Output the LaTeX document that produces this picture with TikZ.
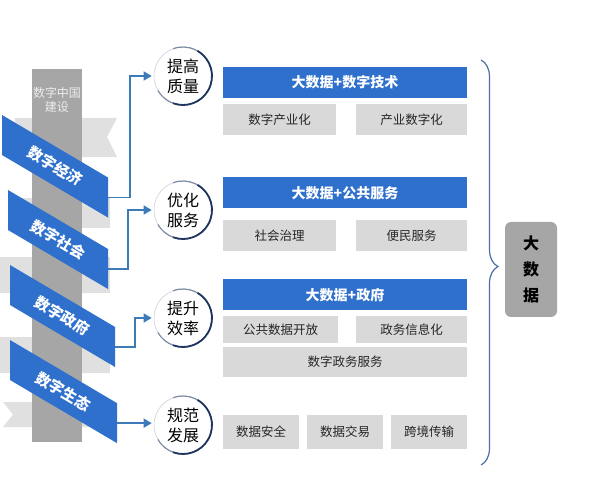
\documentclass[tikz,border=0pt]{standalone}
\usepackage{fontspec}
\setmainfont{Noto Sans CJK SC}
\usetikzlibrary{arrows.meta,decorations.pathreplacing}
\definecolor{ribbonblue}{RGB}{46,112,204}
\definecolor{linkblue}{RGB}{60,122,184}
\definecolor{colgray}{RGB}{166,166,166}
\definecolor{backgray}{RGB}{224,224,224}
\definecolor{boxgray}{RGB}{217,217,217}
\definecolor{ringdark}{RGB}{31,53,96}
\definecolor{ringmid}{RGB}{125,140,165}
\definecolor{bracecol}{RGB}{74,111,165}
\begin{document}
\begin{tikzpicture}[x=1pt,y=-1pt,
	conn/.style={draw=linkblue,line width=1.4pt,-{Triangle[length=8pt,width=9pt]},shorten >=2pt},
	ring/.style={circle,draw=ringmid!40,line width=0.6pt,fill=white,minimum size=58pt,inner sep=0pt,align=center,font=\fontsize{16}{20}\selectfont},
	head/.style={fill=ribbonblue,text=white,minimum height=31pt,minimum width=244pt,inner sep=0pt,font=\bfseries\fontsize{14}{16}\selectfont},
	cell/.style={fill=boxgray,text=black!85,inner sep=0pt,font=\fontsize{12.5}{15}\selectfont}]
	\useasboundingbox (0,0) rectangle (598,500);
	\fill[backgray] (15,118) -- (117,118) -- (107,137) -- (117,157) -- (15,157) -- cycle;
	\foreach \ax/\by/\cy in {8/198/228,0/257/293,0/337/373}
		\fill[backgray] (\ax,\by) rectangle (110,\cy);
	\fill[backgray] (3,402) -- (112,402) -- (112,427) -- (3,427) -- (13,414.5) -- cycle;
	\fill[colgray] (32,69) rectangle (82,442);
	\node[text=white!80!colgray,align=center,font=\fontsize{12}{14}\selectfont] (cn) at (57,100) {数字中国\\建设};
	\foreach \lx/\ty/\rx/\j [count=\xi] in {2/115/108/数字经济,8/190/108/数字社会,10/265/115/数字政府,10/340/117/数字生态}
		{\fill[ribbonblue] (\lx,\ty) -- (\rx,{\ty+0.59*(\rx-\lx)}) -- ++(0,40) -- (\lx,{\ty+40}) -- cycle;
		\coordinate (e\xi) at (\rx,{\ty+0.59*(\rx-\lx)+20});
		\node[text=white,rotate=-30.5,font=\bfseries\fontsize{15}{17}\selectfont] (r\xi) at ({(\lx+\rx)/2},{\ty+0.295*(\rx-\lx)+20}) {\j};}
	\foreach \y/\j [count=\xi] in {76/提高\\质量,210/优化\\服务,318/提升\\效率,425/规范\\发展}
		\node[ring] (c\xi) at (183,\y) {\j};
	\foreach \xi in {1,...,4}
		{\draw[ringmid,line width=1.2pt] (c\xi) ++(-110:29) arc[start angle=-110,end angle=150,radius=29];
		\draw[ringdark,line width=1.8pt] (c\xi) ++(-60:29) arc[start angle=-60,end angle=110,radius=29];}
	\foreach \xi/\d in {1/22,2/20,3/20}
		\draw[conn] (e\xi) -- ++(\d,0) |- (c\xi);
	\draw[conn] (e4) -- (e4 -| c4.west);
	\foreach \y/\j [count=\xi] in {82.5/大数据+数字技术,193/大数据+公共服务,295/大数据+政府}
		\node[head] (h\xi) at (345,\y) {\j};
	\foreach \x/\y/\w/\h/\j [count=\xi] in {279.5/119.5/113/31/数字产业化,411.5/119.5/111/31/产业数字化,279.5/235.5/113/31/社会治理,411.5/235.5/111/31/便民服务,280.5/329.5/115/27/公共数据开放,411.5/329.5/111/27/政务信息化,345/362/244/30/数字政务服务,261/432/76/34/数据安全,345/432/76/34/数据交易,429/432/76/34/跨境传输}
		\node[cell,minimum width=\w pt,minimum height=\h pt] (b\xi) at (\x,\y) {\j};
	\coordinate (bt) at (481,60);
	\coordinate (bb) at (481,465);
	\draw[bracecol,line width=1.2pt,decorate,decoration={brace,amplitude=17pt,aspect=0.51}] (bt) -- (bb);
	\node[fill=colgray,rounded corners=6pt,minimum width=52pt,minimum height=95pt,align=center,font=\bfseries\fontsize{16}{26}\selectfont] (big) at (531,269.5) {大\\数\\据};
\end{tikzpicture}
\end{document}
